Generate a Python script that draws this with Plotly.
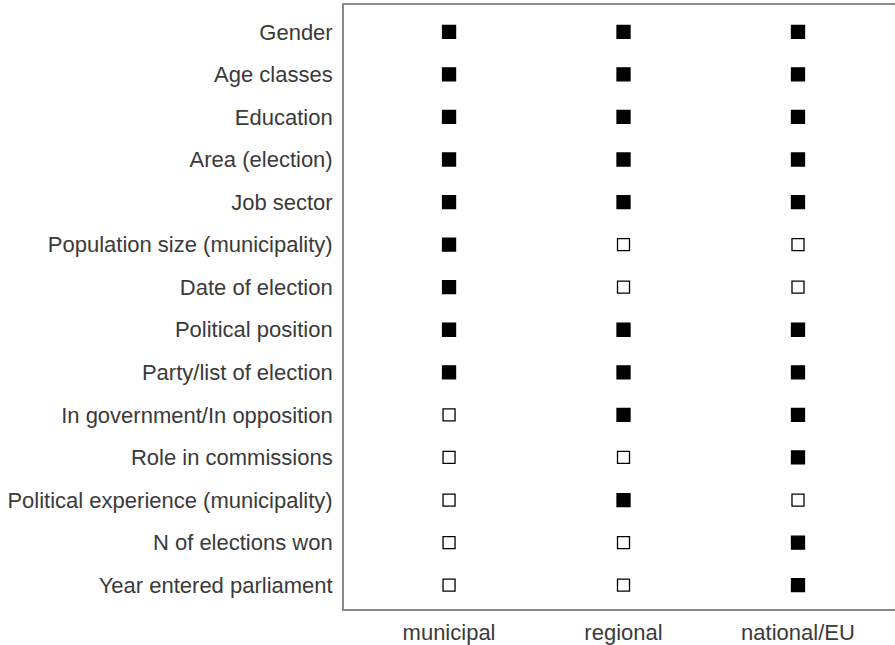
import plotly.graph_objects as go

levels = ["municipal", "regional", "national/EU"]
variables = [
    "Gender", "Age classes", "Education", "Area (election)", "Job sector",
    "Population size (municipality)", "Date of election", "Political position",
    "Party/list of election", "In government/In opposition", "Role in commissions",
    "Political experience (municipality)", "N of elections won", "Year entered parliament",
]
municipal = [1, 1, 1, 1, 1, 1, 1, 1, 1, 0, 0, 0, 0, 0]
regional = [1, 1, 1, 1, 1, 0, 0, 1, 1, 1, 0, 1, 0, 0]
national = [1, 1, 1, 1, 1, 0, 0, 1, 1, 1, 1, 0, 1, 1]

series = {"municipal": municipal, "regional": regional, "national/EU": national}

fig = go.Figure()
for lvl in levels:
    vals = series[lvl]
    for flag, sym, size in [(1, "square", 13), (0, "square-open", 12)]:
        ys = [v for v, f in zip(variables, vals) if f == flag]
        if not ys:
            continue
        fig.add_trace(go.Scatter(
            x=[lvl] * len(ys), y=ys, mode="markers",
            marker=dict(symbol=sym, size=size, color="black",
                        line=dict(color="black", width=1.3)),
            showlegend=False, hoverinfo="skip", cliponaxis=False,
        ))

font = dict(family="Liberation Sans, Arial, sans-serif", size=22, color="#3a3a3a")
fig.update_layout(
    width=895, height=645,
    margin=dict(l=344, r=0, t=5, b=33),
    paper_bgcolor="white", plot_bgcolor="white",
    font=font,
)
fig.update_xaxes(
    type="category", categoryorder="array", categoryarray=levels,
    range=[-0.602, 2.556], showgrid=False, zeroline=False,
    showline=True, mirror=True, linecolor="#8a8a8a", linewidth=1.8,
    ticks="", ticklabelstandoff=3, tickfont=font,
)
fig.update_yaxes(
    type="category", categoryorder="array", categoryarray=variables,
    range=[13.56, -0.63], showgrid=False, zeroline=False,
    showline=True, mirror=False, linecolor="#8a8a8a", linewidth=1.8,
    ticks="", ticklabelstandoff=5, tickfont=font,
)
fig.write_html("out.html", config={"displayModeBar": False},
               post_script="document.body.style.margin='0';")
